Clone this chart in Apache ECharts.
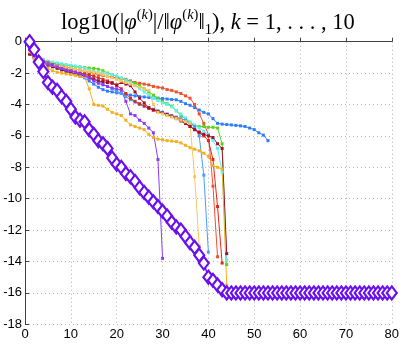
<!DOCTYPE html>
<html><head><meta charset="utf-8">
<script src="https://cdn.jsdelivr.net/npm/echarts@6/dist/echarts.min.js"></script>
<style>html,body{margin:0;padding:0;background:#fff}#c{width:402px;height:347px}</style>
</head><body><div id="c"></div>
<script>
// ---- data ----
const xTicks = [0,10,20,30,40,50,60,70,80];
const yTicks = [-18,-16,-14,-12,-10,-8,-6,-4,-2,0];

// y values at x = 1, 2, 3, ...
const sPurple = [-0.5,-0.9,-1.15,-1.3,-1.4,-1.5,-1.6,-1.7,-1.8,-1.85,-1.95,-2.05,-2.15,-2.3,-2.5,-2.65,-2.75,-2.85,-2.95,-3.0,-3.1,-3.8,-4.6,-4.7,-5.0,-5.2,-5.5,-5.8,-7.5,-13.8];
const sLightYellow = [-0.65,-0.95,-1.15,-1.3,-1.4,-1.5,-1.55,-1.6,-1.65,-1.7,-1.75,-1.8,-1.85,-1.9,-1.95,-2.0,-2.1,-2.2,-2.3,-2.4,-2.5,-2.6,-2.7,-2.8,-2.9,-3.0,-3.1,-4.0,-4.5,-4.6,-4.7,-4.8,-4.9,-5.0,-5.1,-5.2,-8.6,-13.0];
const sLightBlue = [-0.7,-1.0,-1.2,-1.35,-1.45,-1.55,-1.65,-1.7,-1.8,-1.85,-1.95,-2.0,-2.1,-2.2,-2.35,-2.5,-2.7,-2.85,-3.0,-3.15,-3.3,-3.5,-3.7,-3.85,-4.0,-4.1,-4.2,-4.3,-4.4,-4.5,-4.6,-4.7,-4.8,-4.9,-5.0,-5.2,-5.4,-6.0,-8.5,-13.4];
const sRed1 = [-0.5,-0.8,-1.0,-1.15,-1.25,-1.35,-1.45,-1.5,-1.6,-1.7,-1.75,-1.8,-1.9,-1.95,-2.0,-2.1,-2.15,-2.2,-2.25,-2.3,-2.35,-2.4,-2.5,-2.6,-2.65,-2.7,-2.75,-2.85,-2.9,-2.95,-3.05,-3.1,-3.2,-3.3,-3.45,-3.6,-4.0,-4.6,-5.2,-5.9,-9.2,-13.7];
const sRed2 = [-0.7,-0.95,-1.1,-1.25,-1.35,-1.45,-1.55,-1.65,-1.75,-1.85,-1.9,-2.0,-2.05,-2.1,-2.2,-2.3,-2.4,-2.5,-2.6,-2.8,-3.0,-3.3,-3.6,-3.8,-3.95,-4.1,-4.25,-4.35,-4.45,-4.55,-4.65,-4.75,-4.85,-5.0,-5.2,-5.4,-5.6,-5.8,-6.0,-6.3,-7.5,-10.5,-14.1];
const sMaroon = [-0.8,-1.0,-1.2,-1.35,-1.5,-1.6,-1.7,-1.8,-1.9,-1.95,-2.05,-2.1,-2.2,-2.3,-2.4,-2.5,-2.55,-2.6,-2.65,-2.75,-2.6,-2.7,-2.8,-3.2,-3.6,-3.9,-4.2,-4.35,-4.45,-4.55,-4.65,-4.75,-4.9,-5.05,-5.2,-5.4,-5.6,-5.75,-5.9,-6.0,-6.1,-6.5,-6.8,-13.5];
const sGreen = [-0.6,-0.9,-1.1,-1.2,-1.3,-1.35,-1.4,-1.45,-1.5,-1.55,-1.6,-1.62,-1.65,-1.68,-1.7,-1.75,-1.85,-2.0,-2.1,-2.2,-2.35,-2.45,-2.55,-2.65,-2.8,-3.0,-3.2,-3.4,-3.6,-3.8,-3.95,-4.1,-4.4,-4.7,-4.9,-5.2,-5.35,-5.4,-5.4,-5.45,-5.45,-5.5,-6.5,-14.2];
const sCyan = [-0.55,-0.85,-1.05,-1.15,-1.25,-1.3,-1.35,-1.4,-1.45,-1.5,-1.55,-1.6,-1.7,-1.8,-1.9,-1.95,-2.0,-2.05,-2.1,-2.2,-2.3,-2.45,-2.6,-2.8,-3.0,-3.2,-3.4,-3.6,-3.75,-3.9,-4.0,-4.15,-4.4,-4.6,-4.85,-5.1,-5.3,-5.5,-5.7,-5.9,-6.3,-6.8,-8.3,-13.9];
const sOrange = [-0.6,-1.1,-1.4,-1.6,-1.7,-1.85,-1.95,-2.0,-2.05,-2.1,-2.15,-2.2,-2.25,-3.0,-4.0,-4.05,-4.1,-4.3,-4.5,-4.6,-4.7,-5.0,-5.3,-5.4,-5.5,-5.6,-5.9,-6.1,-6.2,-6.25,-6.3,-6.33,-6.36,-6.45,-6.6,-6.75,-6.85,-6.95,-7.1,-7.3,-7.9,-8.0,-8.1,-15.5];
const sBlue = [-0.6,-0.9,-1.1,-1.3,-1.4,-1.5,-1.6,-1.75,-1.9,-2.0,-2.1,-2.2,-2.3,-2.5,-2.7,-2.9,-3.05,-3.15,-3.2,-3.25,-3.3,-3.35,-3.4,-3.45,-3.5,-3.52,-3.55,-3.58,-3.6,-3.62,-3.65,-3.68,-3.7,-3.8,-3.95,-4.05,-4.2,-4.35,-4.5,-4.6,-4.9,-5.2,-5.25,-5.28,-5.3,-5.33,-5.36,-5.4,-5.5,-5.6,-5.8,-5.95,-6.3];
const sDiamond = [0,-0.5,-1.3,-1.9,-2.6,-2.9,-3.1,-3.5,-3.8,-4.3,-4.8,-5.0,-5.1,-5.6,-5.9,-6.3,-6.5,-6.8,-7.4,-7.8,-8.0,-8.4,-8.6,-8.9,-9.3,-9.6,-9.9,-10.2,-10.5,-10.8,-11.1,-11.5,-11.8,-12.0,-12.4,-12.8,-13.1,-13.6,-14.1,-15.0,-15.2,-15.5,-15.8,-16.0,
  -16,-16,-16,-16,-16,-16,-16,-16,-16,-16,-16,-16,-16,-16,-16,-16,-16,-16,-16,-16,-16,-16,-16,-16,-16,-16,-16,-16,-16,-16,-16,-16,-16,-16,-16,-16];

const thinSeries = [
  {name:'blue', data:sBlue, color:'#2f7cff'},
  {name:'red1', data:sRed1, color:'#f0502a'},
  {name:'green', data:sGreen, color:'#5cd21e'},
  {name:'cyan', data:sCyan, color:'#5ff0f0'},
  {name:'lightblue', data:sLightBlue, color:'#4a9cff'},
  {name:'red2', data:sRed2, color:'#e0281a'},
  {name:'maroon', data:sMaroon, color:'#a0102e'},
  {name:'orange', data:sOrange, color:'#f2b020'},
  {name:'lightyellow', data:sLightYellow, color:'#f6c860'},
  {name:'purple', data:sPurple, color:'#8c3cff'}
];

const toPairs = arr => arr.map((v,i)=>[i+1, v]);

const series = thinSeries.map(s => ({
  type:'line', name:s.name, data:toPairs(s.data),
  symbol:'rect', symbolSize:3, showSymbol:true,
  lineStyle:{color:s.color, width:1},
  itemStyle:{color:s.color},
  animation:false, z:2
}));
series.push({
  type:'line', name:'diamond', data:toPairs(sDiamond),
  symbol:'diamond', symbolSize:[10,13],
  lineStyle:{color:'#6a10f0', width:1.5},
  itemStyle:{color:'#ffffff', borderColor:'#6a10f0', borderWidth:2.2},
  animation:false, z:3
});

const chart = echarts.init(document.getElementById('c'), null, {renderer:'canvas'});
const serif = '"Liberation Serif","DejaVu Serif",serif';
chart.setOption({
  animation:false,
  title:{
    text:'{n|log10(|}{i|φ}{sup|(}{supi|k}{sup|)}{n||/‖}{i|φ}{sup|(}{supi|k}{sup|)}{n|‖}{sub|1}{n|), }{i|k}{n| = 1, . . . , 10}',
    left:56, top:3,
    textStyle:{
      fontWeight:'normal',
      rich:{
        n:{fontFamily:serif, fontSize:22.5, fontWeight:'normal', color:'#000', lineHeight:30},
        i:{fontFamily:serif, fontSize:22.5, fontWeight:'normal', fontStyle:'italic', color:'#000', lineHeight:30},
        sup:{fontFamily:serif, fontSize:14.5, fontWeight:'normal', color:'#000', verticalAlign:'top', lineHeight:18},
        supi:{fontFamily:serif, fontSize:14.5, fontWeight:'normal', fontStyle:'italic', color:'#000', verticalAlign:'top', lineHeight:18},
        sub:{fontFamily:serif, fontSize:14.5, fontWeight:'normal', color:'#000', verticalAlign:'bottom', lineHeight:12}
      }
    }
  },
  grid:{left:25, right:9, top:41.7, bottom:22.7, containLabel:false},
  xAxis:{
    type:'value', min:0, max:80, interval:10,
    axisLine:{show:true, lineStyle:{color:'#404040', width:1}},
    axisTick:{show:true, inside:true, length:4, lineStyle:{color:'#404040'}},
    axisLabel:{color:'#000', fontFamily:'"Liberation Sans",Arial,sans-serif', fontSize:13, margin:4,
      formatter:v=>xTicks.includes(v)?String(v):''},
    splitLine:{show:true, lineStyle:{color:'#b4b4b4', type:[1,3], width:1}}
  },
  yAxis:{
    type:'value', min:-18, max:0, interval:2,
    axisLine:{show:true, lineStyle:{color:'#404040', width:1}},
    axisTick:{show:true, inside:true, length:4, lineStyle:{color:'#404040'}},
    axisLabel:{color:'#000', fontFamily:'"Liberation Sans",Arial,sans-serif', fontSize:13, margin:3,
      formatter:v=>yTicks.includes(v)?String(v):''},
    splitLine:{show:true, lineStyle:{color:'#b4b4b4', type:[1,3], width:1}}
  },
  series:series
});
</script>
</body></html>
